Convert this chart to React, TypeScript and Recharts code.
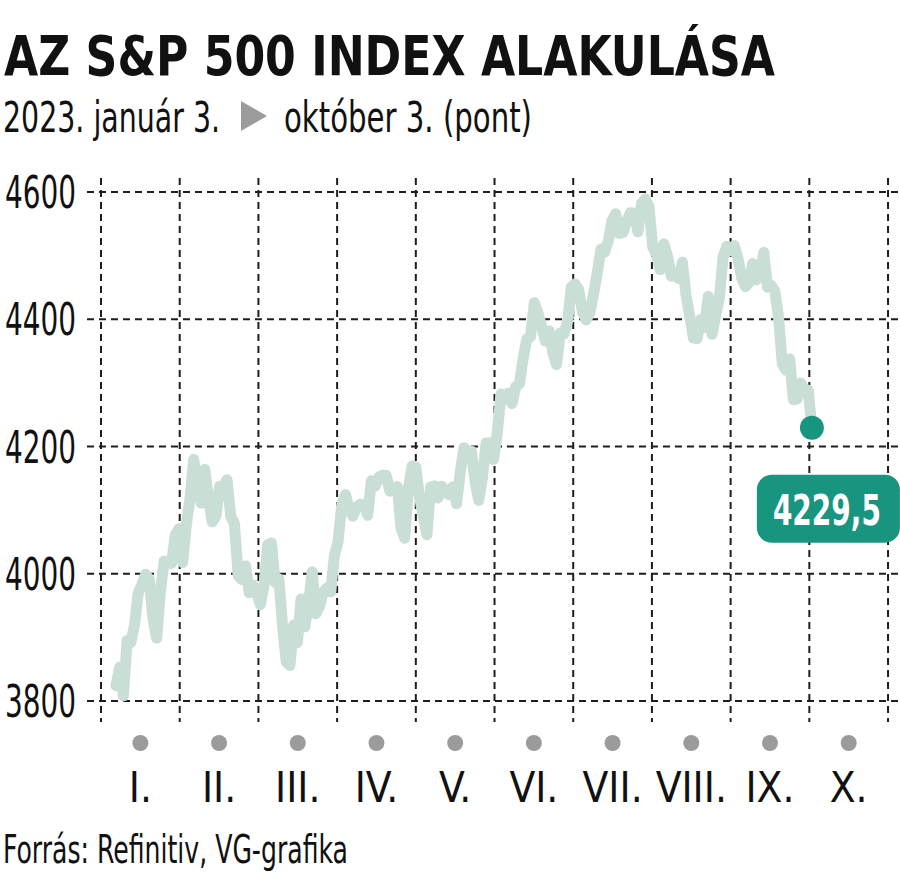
import { LineChart, Line, XAxis, YAxis, CartesianGrid } from 'recharts';

// S&P 500 daily closes, 2023-01-03 .. 2023-10-03, one array per month (trading days)
const jan = [3824.14, 3852.97, 3808.1, 3895.08, 3892.09, 3919.25, 3969.61, 3983.17, 3999.09, 3990.97, 3928.86, 3898.85, 3972.61, 4019.81, 4016.95, 4016.22, 4060.43, 4070.56, 4017.77, 4076.6];
const feb = [4119.21, 4179.76, 4136.48, 4111.08, 4164.0, 4117.86, 4081.5, 4090.46, 4137.29, 4136.13, 4147.6, 4090.41, 4079.09, 3997.34, 3991.05, 4012.32, 3970.04, 3982.24, 3970.15];
const mar = [3951.39, 3981.35, 4045.64, 4048.42, 3986.37, 3992.01, 3918.32, 3861.59, 3855.76, 3919.29, 3891.93, 3960.28, 3916.64, 3951.57, 4002.87, 3936.97, 3948.72, 3970.99, 3977.53, 3971.27, 4027.81, 4050.83, 4109.31];
const apr = [4124.51, 4100.6, 4090.38, 4105.02, 4109.11, 4108.94, 4091.95, 4146.22, 4137.64, 4151.32, 4154.87, 4154.52, 4129.79, 4133.52, 4137.04, 4071.63, 4055.99, 4135.35, 4169.48];
const may = [4167.87, 4119.58, 4090.75, 4061.22, 4136.25, 4138.12, 4119.17, 4137.64, 4130.62, 4124.08, 4136.28, 4109.9, 4158.77, 4198.05, 4191.98, 4192.63, 4145.58, 4115.24, 4151.28, 4205.45, 4205.52, 4179.83];
const jun = [4221.02, 4282.37, 4273.79, 4283.85, 4267.52, 4293.93, 4298.86, 4338.93, 4369.01, 4372.59, 4425.84, 4409.59, 4388.71, 4365.69, 4381.89, 4348.33, 4328.82, 4378.41, 4376.86, 4396.44, 4450.38];
const jul = [4455.59, 4446.82, 4411.59, 4398.95, 4409.53, 4439.26, 4472.16, 4510.04, 4505.42, 4522.79, 4554.98, 4565.72, 4534.87, 4536.34, 4554.64, 4567.46, 4566.75, 4537.41, 4582.23, 4588.96];
const aug = [4576.73, 4513.39, 4501.89, 4478.03, 4518.44, 4499.38, 4467.71, 4468.83, 4464.05, 4489.72, 4437.86, 4404.33, 4370.36, 4369.71, 4399.77, 4387.55, 4436.01, 4376.31, 4405.71, 4433.31, 4497.63, 4514.87, 4507.66];
const sep = [4515.77, 4496.83, 4465.48, 4451.14, 4457.49, 4487.46, 4461.9, 4467.44, 4505.1, 4450.32, 4453.53, 4443.95, 4402.2, 4330.0, 4320.06, 4337.44, 4273.53, 4274.51, 4299.7, 4288.05];
const oct = [4288.39, 4229.5];

const monthLabels = ['I.', 'II.', 'III.', 'IV.', 'V.', 'VI.', 'VII.', 'VIII.', 'IX.', 'X.'];
const yTicks = [3800, 4000, 4200, 4400, 4600];
const monthEdges = [0, 1, 2, 3, 4, 5, 6, 7, 8, 9, 10];
const monthMids = [0.5, 1.5, 2.5, 3.5, 4.5, 5.5, 6.5, 7.5, 8.5, 9.5];

const closes = [...jan, ...feb, ...mar, ...apr, ...may, ...jun, ...jul, ...aug, ...sep, ...oct];
const data = closes.map((v, i) => ({ i, v }));
const last = data.length - 1;

const FONT = '"Liberation Sans Narrow", "DejaVu Sans Condensed", "Roboto Condensed", "Open Sans", sans-serif';
const TEAL = '#17957f';
const LINE = '#c9ded5';
const GRID = '#1e1e1e';
const MONTH_DOMAIN: [number, number] = [-0.178, 10.152];

function YTick({ x, y, payload }: any) {
    return (
        <text x={x} y={y + 16} textAnchor="end" fontFamily={FONT} fontSize={44} fill="#111" textLength={71} lengthAdjust="spacingAndGlyphs">
            {payload.value}
        </text>
    );
}

function MonthTick({ x, y, payload }: any) {
    const idx = Math.round(payload.value - 0.5);
    return (
        <g>
            <circle cx={x} cy={y + 21} r={8} fill="#9b9b9b" />
            <text x={x} y={y + 80} textAnchor="middle" fontFamily={FONT} fontSize={42} fill="#111">
                {monthLabels[idx]}
            </text>
        </g>
    );
}

function EndDot({ cx, cy, index, payload }: any) {
    if (index !== last) return <g key={index} />;
    return (
        <g key={index}>
            <circle cx={cx} cy={cy} r={12} fill={TEAL} />
            <rect x={cx - 55} y={cy + 47} width={143} height={68} rx={15} fill={TEAL} />
            <text x={cx + 15} y={cy + 97} textAnchor="middle" fontFamily={FONT} fontWeight="bold" fontSize={42} fill="#fff" textLength={108} lengthAdjust="spacingAndGlyphs">
                {payload.v.toFixed(1).replace('.', ',')}
            </text>
        </g>
    );
}

export default function App() {
    return (
        <div style={{ position: 'absolute', left: 0, top: 0, width: 900, height: 888, background: '#fff', overflow: 'hidden' }}>
            <LineChart width={900} height={888} data={data} margin={{ top: 178, right: 0, left: 0, bottom: 66 }} style={{ position: 'absolute', left: 0, top: 0 }}>
                <XAxis xAxisId="idx" type="number" dataKey="i" domain={[-7.83, 211.8]} allowDataOverflow hide height={0} />
                <XAxis xAxisId="m" type="number" dataKey="i" domain={MONTH_DOMAIN} ticks={monthEdges} allowDataOverflow hide height={0} />
                <XAxis
                    xAxisId="lab"
                    type="number"
                    dataKey="i"
                    domain={MONTH_DOMAIN}
                    ticks={monthMids}
                    interval={0}
                    allowDataOverflow
                    axisLine={false}
                    tickLine={false}
                    tickSize={0}
                    tickMargin={0}
                    height={100}
                    tick={<MonthTick />}
                />
                <YAxis
                    type="number"
                    domain={[3767, 4622]}
                    ticks={yTicks}
                    allowDataOverflow
                    width={87}
                    axisLine={false}
                    tickLine={false}
                    tickSize={0}
                    tickMargin={11}
                    tick={<YTick />}
                />
                <CartesianGrid xAxisId="m" syncWithTicks stroke={GRID} strokeWidth={2} strokeDasharray="7 5" />
                <Line
                    xAxisId="idx"
                    type="linear"
                    dataKey="v"
                    stroke={LINE}
                    strokeWidth={11}
                    strokeLinejoin="round"
                    strokeLinecap="round"
                    dot={<EndDot />}
                    activeDot={false}
                    isAnimationActive={false}
                />
            </LineChart>
            <svg width={900} height={888} style={{ position: 'absolute', left: 0, top: 0, pointerEvents: 'none' }}>
                <text x={4} y={75} fontFamily={FONT} fontWeight="bold" fontSize={56} fill="#111" textLength={771} lengthAdjust="spacingAndGlyphs">
                    AZ S&amp;P 500 INDEX ALAKULÁSA
                </text>
                <text x={3} y={132} fontFamily={FONT} fontSize={42} fill="#111" textLength={217} lengthAdjust="spacingAndGlyphs">
                    2023. január 3.
                </text>
                <polygon points="241,101 267,116 241,131" fill="#9b9b9b" />
                <text x={284} y={132} fontFamily={FONT} fontSize={42} fill="#111" textLength={248} lengthAdjust="spacingAndGlyphs">
                    október 3. (pont)
                </text>
                <text x={3} y={863} fontFamily={FONT} fontSize={39} fill="#111" textLength={345} lengthAdjust="spacingAndGlyphs">
                    Forrás: Refinitiv, VG-grafika
                </text>
            </svg>
        </div>
    );
}
